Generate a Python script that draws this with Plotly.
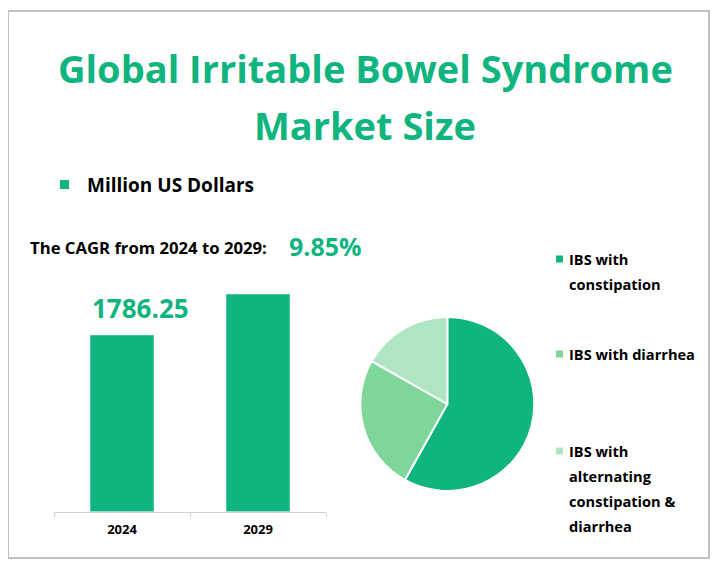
import plotly.graph_objects as go

# page has an 8px body margin, so the figure is drawn 8px in from the corner
OFF = 8
W, H = 725 - OFF, 570 - OFF

title_lines = ["Global Irritable Bowel Syndrome", "Market Size"]
years = ["2024", "2029"]
market_size = [1786.25, 2200.0]
bar_label = "1786.25"
series_name = "Million US Dollars"
cagr_text = "The CAGR from 2024 to 2029:"
cagr_value = "9.85%"
segments = [["IBS with", "constipation"], ["IBS with diarrhea"],
            ["IBS with", "alternating", "constipation &", "diarrhea"]]
segment_share = [58.1, 25.1, 16.8]

GREEN = "#0fb47f"
pie_colors = ["#0fb47f", "#7fd69a", "#afe5c3"]
FONT = "Open Sans"


def px(x):
    return (x - OFF) / W


def py(y):
    return 1 - (y - OFF) / H


fig = go.Figure()

# bar chart
y_base, y_top = 511.7, 290.0
ymax = market_size[0] * (y_base - y_top) / (y_base - 335.0)
fig.add_trace(go.Bar(
    x=years, y=market_size, marker_color=GREEN, width=0.47,
    xaxis="x", yaxis="y", showlegend=False, hoverinfo="x+y",
))

fig.add_trace(go.Pie(
    labels=[" ".join(s) for s in segments], values=segment_share,
    sort=False, direction="clockwise", rotation=0,
    marker=dict(colors=pie_colors, line=dict(color="white", width=2)),
    textinfo="none", showlegend=False,
    domain=dict(x=[px(360.3), px(534.3)], y=[py(491.0), py(317.0)]),
))

fig.update_layout(
    width=W, height=H, margin=dict(l=0, r=0, t=0, b=0),
    paper_bgcolor="white", plot_bgcolor="white",
    xaxis=dict(domain=[px(54), px(326)], range=[-0.5, 1.5], type="category",
               showline=True, linecolor="#d0d0d0", linewidth=1,
               ticks="outside", ticklen=4, tickcolor="#d0d0d0",
               tickson="boundaries", showgrid=False, zeroline=False,
               ticklabelstandoff=6,
               tickfont=dict(family=FONT, size=13, color="black", weight="bold")),
    yaxis=dict(domain=[py(y_base), py(y_top)], range=[0, ymax], visible=False),
    font=dict(family=FONT),
)

shapes = [dict(type="rect", xref="paper", yref="paper",
               x0=px(8), x1=px(709), y0=py(558), y1=py(11),
               line=dict(color="#bfbfbf", width=2))]
annotations = []

# title
for i, line in enumerate(title_lines):
    annotations.append(dict(text=line, x=px(365), y=py(68 + 57 * i),
                            xref="paper", yref="paper", showarrow=False,
                            xanchor="center", yanchor="middle",
                            font=dict(family=FONT, size=38, color=GREEN, weight="bold")))

# bar legend
shapes.append(dict(type="rect", xref="paper", yref="paper",
                   x0=px(60), x1=px(69), y0=py(189), y1=py(180),
                   fillcolor=GREEN, line=dict(width=0)))
annotations.append(dict(text=series_name, x=px(85), y=py(185), xref="paper", yref="paper",
                        showarrow=False, xanchor="left", yanchor="middle",
                        font=dict(family=FONT, size=19, color="black", weight="bold")))

# CAGR
annotations.append(dict(text=cagr_text, x=px(28), y=py(248), xref="paper", yref="paper",
                        showarrow=False, xanchor="left", yanchor="middle",
                        font=dict(family=FONT, size=16.7, color="black", weight="bold")))
annotations.append(dict(text=cagr_value, x=px(287), y=py(246), xref="paper", yref="paper",
                        showarrow=False, xanchor="left", yanchor="middle",
                        font=dict(family=FONT, size=25, color=GREEN, weight="bold")))

# bar value label
annotations.append(dict(text=bar_label, x=px(140), y=py(308), xref="paper", yref="paper",
                        showarrow=False, xanchor="center", yanchor="middle",
                        font=dict(family=FONT, size=26, color=GREEN, weight="bold")))

# pie legend
legend_y = [259, 354, 451]
for lines, col, ly in zip(segments, pie_colors, legend_y):
    shapes.append(dict(type="rect", xref="paper", yref="paper",
                       x0=px(556), x1=px(563), y0=py(ly + 3.5), y1=py(ly - 3.5),
                       fillcolor=col, line=dict(width=0)))
    for j, line in enumerate(lines):
        annotations.append(dict(text=line, x=px(567), y=py(ly + 25 * j), xref="paper", yref="paper",
                                showarrow=False, xanchor="left", yanchor="middle", align="left",
                                font=dict(family=FONT, size=14.6, color="black", weight="bold")))

fig.update_layout(shapes=shapes, annotations=annotations)
fig.write_html("out.html")
